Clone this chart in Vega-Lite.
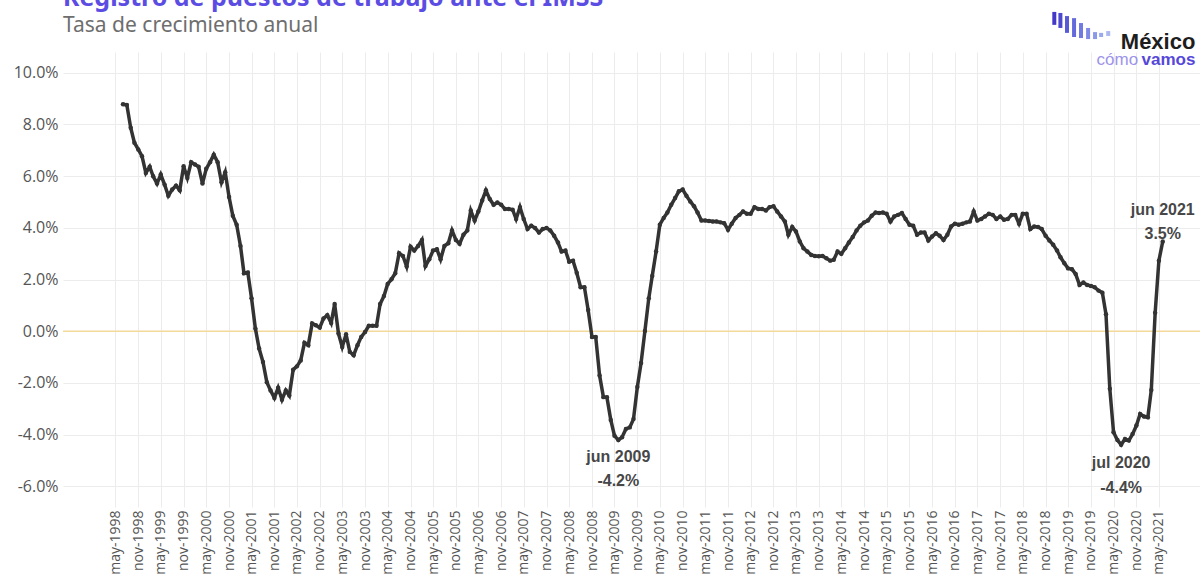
{
  "$schema": "https://vega.github.io/schema/vega-lite/v6.json",
  "width": 1137,
  "height": 455,
  "autosize": {"type": "none"},
  "padding": {"left": 63, "top": 52, "right": 0, "bottom": 70},
  "background": "white",
  "title": {
    "text": "Registro de puestos de trabajo ante el IMSS",
    "subtitle": "Tasa de crecimiento anual",
    "anchor": "start",
    "frame": "group",
    "offset": -26,
    "font": "Noto Sans",
    "fontSize": 25,
    "fontWeight": "bold",
    "color": "#5b4de3",
    "subtitleFont": "Noto Sans",
    "subtitleFontSize": 21,
    "subtitleColor": "#6e6e6e",
    "subtitlePadding": 4
  },
  "config": {
    "view": {"stroke": null},
    "axis": {"grid": true, "gridColor": "#ececec", "gridWidth": 1, "ticks": false, "domain": false, "title": null, "labelFont": "Open Sans", "labelColor": "#555555"}
  },
  "datasets": {
    "serie": [
      {"fecha": "1998-07-01", "valor": 8.78}, {"fecha": "1998-08-01", "valor": 8.75}, {"fecha": "1998-09-01", "valor": 7.87}, {"fecha": "1998-10-01", "valor": 7.29},
      {"fecha": "1998-11-01", "valor": 7.03}, {"fecha": "1998-12-01", "valor": 6.77}, {"fecha": "1999-01-01", "valor": 6.12}, {"fecha": "1999-02-01", "valor": 6.36},
      {"fecha": "1999-03-01", "valor": 5.99}, {"fecha": "1999-04-01", "valor": 5.71}, {"fecha": "1999-05-01", "valor": 6.06}, {"fecha": "1999-06-01", "valor": 5.67},
      {"fecha": "1999-07-01", "valor": 5.24}, {"fecha": "1999-08-01", "valor": 5.48}, {"fecha": "1999-09-01", "valor": 5.63}, {"fecha": "1999-10-01", "valor": 5.45},
      {"fecha": "1999-11-01", "valor": 6.38}, {"fecha": "1999-12-01", "valor": 5.93}, {"fecha": "2000-01-01", "valor": 6.54}, {"fecha": "2000-02-01", "valor": 6.45},
      {"fecha": "2000-03-01", "valor": 6.36}, {"fecha": "2000-04-01", "valor": 5.71}, {"fecha": "2000-05-01", "valor": 6.28}, {"fecha": "2000-06-01", "valor": 6.54},
      {"fecha": "2000-07-01", "valor": 6.83}, {"fecha": "2000-08-01", "valor": 6.54}, {"fecha": "2000-09-01", "valor": 5.76}, {"fecha": "2000-10-01", "valor": 6.15},
      {"fecha": "2000-11-01", "valor": 5.19}, {"fecha": "2000-12-01", "valor": 4.47}, {"fecha": "2001-01-01", "valor": 4.12}, {"fecha": "2001-02-01", "valor": 3.30},
      {"fecha": "2001-03-01", "valor": 2.24}, {"fecha": "2001-04-01", "valor": 2.27}, {"fecha": "2001-05-01", "valor": 1.27}, {"fecha": "2001-06-01", "valor": 0.10},
      {"fecha": "2001-07-01", "valor": -0.67}, {"fecha": "2001-08-01", "valor": -1.19}, {"fecha": "2001-09-01", "valor": -1.97}, {"fecha": "2001-10-01", "valor": -2.29},
      {"fecha": "2001-11-01", "valor": -2.58}, {"fecha": "2001-12-01", "valor": -2.19}, {"fecha": "2002-01-01", "valor": -2.65}, {"fecha": "2002-02-01", "valor": -2.29},
      {"fecha": "2002-03-01", "valor": -2.49}, {"fecha": "2002-04-01", "valor": -1.49}, {"fecha": "2002-05-01", "valor": -1.36}, {"fecha": "2002-06-01", "valor": -1.13},
      {"fecha": "2002-07-01", "valor": -0.45}, {"fecha": "2002-08-01", "valor": -0.54}, {"fecha": "2002-09-01", "valor": 0.30}, {"fecha": "2002-10-01", "valor": 0.23},
      {"fecha": "2002-11-01", "valor": 0.14}, {"fecha": "2002-12-01", "valor": 0.49}, {"fecha": "2003-01-01", "valor": 0.62}, {"fecha": "2003-02-01", "valor": 0.32},
      {"fecha": "2003-03-01", "valor": 1.05}, {"fecha": "2003-04-01", "valor": -0.09}, {"fecha": "2003-05-01", "valor": -0.61}, {"fecha": "2003-06-01", "valor": -0.12},
      {"fecha": "2003-07-01", "valor": -0.80}, {"fecha": "2003-08-01", "valor": -0.93}, {"fecha": "2003-09-01", "valor": -0.54}, {"fecha": "2003-10-01", "valor": -0.22},
      {"fecha": "2003-11-01", "valor": -0.03}, {"fecha": "2003-12-01", "valor": 0.21}, {"fecha": "2004-01-01", "valor": 0.21}, {"fecha": "2004-02-01", "valor": 0.21},
      {"fecha": "2004-03-01", "valor": 1.05}, {"fecha": "2004-04-01", "valor": 1.36}, {"fecha": "2004-05-01", "valor": 1.83}, {"fecha": "2004-06-01", "valor": 2.01},
      {"fecha": "2004-07-01", "valor": 2.24}, {"fecha": "2004-08-01", "valor": 3.02}, {"fecha": "2004-09-01", "valor": 2.91}, {"fecha": "2004-10-01", "valor": 2.50},
      {"fecha": "2004-11-01", "valor": 3.27}, {"fecha": "2004-12-01", "valor": 3.12}, {"fecha": "2005-01-01", "valor": 3.30}, {"fecha": "2005-02-01", "valor": 3.53},
      {"fecha": "2005-03-01", "valor": 2.52}, {"fecha": "2005-04-01", "valor": 2.78}, {"fecha": "2005-05-01", "valor": 3.12}, {"fecha": "2005-06-01", "valor": 3.17},
      {"fecha": "2005-07-01", "valor": 2.78}, {"fecha": "2005-08-01", "valor": 3.30}, {"fecha": "2005-09-01", "valor": 3.40}, {"fecha": "2005-10-01", "valor": 3.90},
      {"fecha": "2005-11-01", "valor": 3.53}, {"fecha": "2005-12-01", "valor": 3.38}, {"fecha": "2006-01-01", "valor": 3.73}, {"fecha": "2006-02-01", "valor": 3.90},
      {"fecha": "2006-03-01", "valor": 4.67}, {"fecha": "2006-04-01", "valor": 4.28}, {"fecha": "2006-05-01", "valor": 4.63}, {"fecha": "2006-06-01", "valor": 5.06},
      {"fecha": "2006-07-01", "valor": 5.45}, {"fecha": "2006-08-01", "valor": 5.11}, {"fecha": "2006-09-01", "valor": 4.89}, {"fecha": "2006-10-01", "valor": 4.98},
      {"fecha": "2006-11-01", "valor": 4.89}, {"fecha": "2006-12-01", "valor": 4.73}, {"fecha": "2007-01-01", "valor": 4.73}, {"fecha": "2007-02-01", "valor": 4.70},
      {"fecha": "2007-03-01", "valor": 4.34}, {"fecha": "2007-04-01", "valor": 4.80}, {"fecha": "2007-05-01", "valor": 4.34}, {"fecha": "2007-06-01", "valor": 3.95},
      {"fecha": "2007-07-01", "valor": 4.08}, {"fecha": "2007-08-01", "valor": 3.99}, {"fecha": "2007-09-01", "valor": 3.82}, {"fecha": "2007-10-01", "valor": 3.95},
      {"fecha": "2007-11-01", "valor": 3.99}, {"fecha": "2007-12-01", "valor": 3.90}, {"fecha": "2008-01-01", "valor": 3.69}, {"fecha": "2008-02-01", "valor": 3.43},
      {"fecha": "2008-03-01", "valor": 3.08}, {"fecha": "2008-04-01", "valor": 3.12}, {"fecha": "2008-05-01", "valor": 2.69}, {"fecha": "2008-06-01", "valor": 2.73},
      {"fecha": "2008-07-01", "valor": 2.26}, {"fecha": "2008-08-01", "valor": 1.70}, {"fecha": "2008-09-01", "valor": 1.70}, {"fecha": "2008-10-01", "valor": 0.82},
      {"fecha": "2008-11-01", "valor": -0.22}, {"fecha": "2008-12-01", "valor": -0.22}, {"fecha": "2009-01-01", "valor": -1.71}, {"fecha": "2009-02-01", "valor": -2.55},
      {"fecha": "2009-03-01", "valor": -2.55}, {"fecha": "2009-04-01", "valor": -3.43}, {"fecha": "2009-05-01", "valor": -4.04}, {"fecha": "2009-06-01", "valor": -4.21},
      {"fecha": "2009-07-01", "valor": -4.10}, {"fecha": "2009-08-01", "valor": -3.78}, {"fecha": "2009-09-01", "valor": -3.72}, {"fecha": "2009-10-01", "valor": -3.40},
      {"fecha": "2009-11-01", "valor": -2.16}, {"fecha": "2009-12-01", "valor": -1.23}, {"fecha": "2010-01-01", "valor": 0.01}, {"fecha": "2010-02-01", "valor": 1.27},
      {"fecha": "2010-03-01", "valor": 2.14}, {"fecha": "2010-04-01", "valor": 3.08}, {"fecha": "2010-05-01", "valor": 4.12}, {"fecha": "2010-06-01", "valor": 4.38},
      {"fecha": "2010-07-01", "valor": 4.59}, {"fecha": "2010-08-01", "valor": 4.89}, {"fecha": "2010-09-01", "valor": 5.15}, {"fecha": "2010-10-01", "valor": 5.41},
      {"fecha": "2010-11-01", "valor": 5.48}, {"fecha": "2010-12-01", "valor": 5.24}, {"fecha": "2011-01-01", "valor": 5.02}, {"fecha": "2011-02-01", "valor": 4.83},
      {"fecha": "2011-03-01", "valor": 4.59}, {"fecha": "2011-04-01", "valor": 4.28}, {"fecha": "2011-05-01", "valor": 4.28}, {"fecha": "2011-06-01", "valor": 4.26},
      {"fecha": "2011-07-01", "valor": 4.24}, {"fecha": "2011-08-01", "valor": 4.24}, {"fecha": "2011-09-01", "valor": 4.21}, {"fecha": "2011-10-01", "valor": 4.18},
      {"fecha": "2011-11-01", "valor": 3.92}, {"fecha": "2011-12-01", "valor": 4.16}, {"fecha": "2012-01-01", "valor": 4.38}, {"fecha": "2012-02-01", "valor": 4.50},
      {"fecha": "2012-03-01", "valor": 4.63}, {"fecha": "2012-04-01", "valor": 4.54}, {"fecha": "2012-05-01", "valor": 4.54}, {"fecha": "2012-06-01", "valor": 4.80},
      {"fecha": "2012-07-01", "valor": 4.73}, {"fecha": "2012-08-01", "valor": 4.73}, {"fecha": "2012-09-01", "valor": 4.67}, {"fecha": "2012-10-01", "valor": 4.80},
      {"fecha": "2012-11-01", "valor": 4.83}, {"fecha": "2012-12-01", "valor": 4.63}, {"fecha": "2013-01-01", "valor": 4.44}, {"fecha": "2013-02-01", "valor": 4.24},
      {"fecha": "2013-03-01", "valor": 3.73}, {"fecha": "2013-04-01", "valor": 4.03}, {"fecha": "2013-05-01", "valor": 3.86}, {"fecha": "2013-06-01", "valor": 3.47},
      {"fecha": "2013-07-01", "valor": 3.21}, {"fecha": "2013-08-01", "valor": 3.08}, {"fecha": "2013-09-01", "valor": 2.95}, {"fecha": "2013-10-01", "valor": 2.91},
      {"fecha": "2013-11-01", "valor": 2.90}, {"fecha": "2013-12-01", "valor": 2.91}, {"fecha": "2014-01-01", "valor": 2.82}, {"fecha": "2014-02-01", "valor": 2.73},
      {"fecha": "2014-03-01", "valor": 2.76}, {"fecha": "2014-04-01", "valor": 3.08}, {"fecha": "2014-05-01", "valor": 2.99}, {"fecha": "2014-06-01", "valor": 3.21},
      {"fecha": "2014-07-01", "valor": 3.43}, {"fecha": "2014-08-01", "valor": 3.64}, {"fecha": "2014-09-01", "valor": 3.90}, {"fecha": "2014-10-01", "valor": 4.08},
      {"fecha": "2014-11-01", "valor": 4.21}, {"fecha": "2014-12-01", "valor": 4.28}, {"fecha": "2015-01-01", "valor": 4.47}, {"fecha": "2015-02-01", "valor": 4.59},
      {"fecha": "2015-03-01", "valor": 4.57}, {"fecha": "2015-04-01", "valor": 4.59}, {"fecha": "2015-05-01", "valor": 4.54}, {"fecha": "2015-06-01", "valor": 4.24},
      {"fecha": "2015-07-01", "valor": 4.44}, {"fecha": "2015-08-01", "valor": 4.50}, {"fecha": "2015-09-01", "valor": 4.57}, {"fecha": "2015-10-01", "valor": 4.34},
      {"fecha": "2015-11-01", "valor": 4.12}, {"fecha": "2015-12-01", "valor": 4.08}, {"fecha": "2016-01-01", "valor": 3.73}, {"fecha": "2016-02-01", "valor": 3.82},
      {"fecha": "2016-03-01", "valor": 3.82}, {"fecha": "2016-04-01", "valor": 3.51}, {"fecha": "2016-05-01", "valor": 3.66}, {"fecha": "2016-06-01", "valor": 3.79},
      {"fecha": "2016-07-01", "valor": 3.69}, {"fecha": "2016-08-01", "valor": 3.53}, {"fecha": "2016-09-01", "valor": 3.73}, {"fecha": "2016-10-01", "valor": 4.05},
      {"fecha": "2016-11-01", "valor": 4.16}, {"fecha": "2016-12-01", "valor": 4.12}, {"fecha": "2017-01-01", "valor": 4.16}, {"fecha": "2017-02-01", "valor": 4.21},
      {"fecha": "2017-03-01", "valor": 4.24}, {"fecha": "2017-04-01", "valor": 4.63}, {"fecha": "2017-05-01", "valor": 4.28}, {"fecha": "2017-06-01", "valor": 4.34},
      {"fecha": "2017-07-01", "valor": 4.44}, {"fecha": "2017-08-01", "valor": 4.54}, {"fecha": "2017-09-01", "valor": 4.50}, {"fecha": "2017-10-01", "valor": 4.34},
      {"fecha": "2017-11-01", "valor": 4.44}, {"fecha": "2017-12-01", "valor": 4.31}, {"fecha": "2018-01-01", "valor": 4.34}, {"fecha": "2018-02-01", "valor": 4.50},
      {"fecha": "2018-03-01", "valor": 4.50}, {"fecha": "2018-04-01", "valor": 4.16}, {"fecha": "2018-05-01", "valor": 4.54}, {"fecha": "2018-06-01", "valor": 4.54},
      {"fecha": "2018-07-01", "valor": 3.95}, {"fecha": "2018-08-01", "valor": 4.05}, {"fecha": "2018-09-01", "valor": 4.03}, {"fecha": "2018-10-01", "valor": 3.95},
      {"fecha": "2018-11-01", "valor": 3.69}, {"fecha": "2018-12-01", "valor": 3.51}, {"fecha": "2019-01-01", "valor": 3.34}, {"fecha": "2019-02-01", "valor": 3.12},
      {"fecha": "2019-03-01", "valor": 2.86}, {"fecha": "2019-04-01", "valor": 2.63}, {"fecha": "2019-05-01", "valor": 2.43}, {"fecha": "2019-06-01", "valor": 2.40},
      {"fecha": "2019-07-01", "valor": 2.21}, {"fecha": "2019-08-01", "valor": 1.79}, {"fecha": "2019-09-01", "valor": 1.88}, {"fecha": "2019-10-01", "valor": 1.79},
      {"fecha": "2019-11-01", "valor": 1.75}, {"fecha": "2019-12-01", "valor": 1.70}, {"fecha": "2020-01-01", "valor": 1.57}, {"fecha": "2020-02-01", "valor": 1.49},
      {"fecha": "2020-03-01", "valor": 0.66}, {"fecha": "2020-04-01", "valor": -2.23}, {"fecha": "2020-05-01", "valor": -3.91}, {"fecha": "2020-06-01", "valor": -4.21},
      {"fecha": "2020-07-01", "valor": -4.39}, {"fecha": "2020-08-01", "valor": -4.17}, {"fecha": "2020-09-01", "valor": -4.23}, {"fecha": "2020-10-01", "valor": -3.98},
      {"fecha": "2020-11-01", "valor": -3.65}, {"fecha": "2020-12-01", "valor": -3.20}, {"fecha": "2021-01-01", "valor": -3.30}, {"fecha": "2021-02-01", "valor": -3.33},
      {"fecha": "2021-03-01", "valor": -2.27}, {"fecha": "2021-04-01", "valor": 0.71}, {"fecha": "2021-05-01", "valor": 2.73}, {"fecha": "2021-06-01", "valor": 3.47}
    ],
    "notas": [
      {"fecha": "2009-06-01", "valor": -4.88, "texto": "jun 2009"},
      {"fecha": "2009-06-01", "valor": -5.81, "texto": "-4.2%"},
      {"fecha": "2020-07-01", "valor": -5.08, "texto": "jul 2020"},
      {"fecha": "2020-07-01", "valor": -6.05, "texto": "-4.4%"},
      {"fecha": "2021-06-01", "valor": 4.69, "texto": "jun 2021"},
      {"fecha": "2021-06-01", "valor": 3.76, "texto": "3.5%"}
    ],
    "barras": [
      {"fecha": "2019-01-10", "valor": 12.35, "valor2": 11.85, "i": 1},
      {"fecha": "2019-02-28", "valor": 12.31, "valor2": 11.73, "i": 2},
      {"fecha": "2019-04-22", "valor": 12.19, "valor2": 11.54, "i": 3},
      {"fecha": "2019-06-18", "valor": 12.11, "valor2": 11.38, "i": 4},
      {"fecha": "2019-08-13", "valor": 11.92, "valor2": 11.34, "i": 5},
      {"fecha": "2019-10-09", "valor": 11.73, "valor2": 11.30, "i": 6},
      {"fecha": "2019-12-04", "valor": 11.57, "valor2": 11.30, "i": 7},
      {"fecha": "2020-01-22", "valor": 11.54, "valor2": 11.38, "i": 8},
      {"fecha": "2020-03-19", "valor": 11.61, "valor2": 11.42, "i": 9}
    ]
  },
  "layer": [
    {
      "data": {"values": [{"valor": 0}]},
      "mark": {"type": "rule", "color": "#f3d99b", "strokeWidth": 1.5},
      "encoding": {
        "y": {"field": "valor", "type": "quantitative", "scale": {"domain": [-6.8, 10.8], "nice": false, "zero": false}}
      }
    },
    {
      "data": {"name": "serie"},
      "mark": {"type": "line", "color": "#333333", "strokeWidth": 3.5, "point": {"filled": true, "size": 20, "color": "#333333"}},
      "encoding": {
        "x": {
          "field": "fecha", "type": "temporal",
          "scale": {"type": "utc", "domain": [{"year": 1997, "month": 3, "date": 5, "utc": true}, {"year": 2022, "month": 3, "date": 28, "utc": true}]},
          "axis": {
            "values": [
              {"year": 1998, "month": 5, "date": 1, "utc": true}, {"year": 1998, "month": 11, "date": 1, "utc": true},
              {"year": 1999, "month": 5, "date": 1, "utc": true}, {"year": 1999, "month": 11, "date": 1, "utc": true},
              {"year": 2000, "month": 5, "date": 1, "utc": true}, {"year": 2000, "month": 11, "date": 1, "utc": true},
              {"year": 2001, "month": 5, "date": 1, "utc": true}, {"year": 2001, "month": 11, "date": 1, "utc": true},
              {"year": 2002, "month": 5, "date": 1, "utc": true}, {"year": 2002, "month": 11, "date": 1, "utc": true},
              {"year": 2003, "month": 5, "date": 1, "utc": true}, {"year": 2003, "month": 11, "date": 1, "utc": true},
              {"year": 2004, "month": 5, "date": 1, "utc": true}, {"year": 2004, "month": 11, "date": 1, "utc": true},
              {"year": 2005, "month": 5, "date": 1, "utc": true}, {"year": 2005, "month": 11, "date": 1, "utc": true},
              {"year": 2006, "month": 5, "date": 1, "utc": true}, {"year": 2006, "month": 11, "date": 1, "utc": true},
              {"year": 2007, "month": 5, "date": 1, "utc": true}, {"year": 2007, "month": 11, "date": 1, "utc": true},
              {"year": 2008, "month": 5, "date": 1, "utc": true}, {"year": 2008, "month": 11, "date": 1, "utc": true},
              {"year": 2009, "month": 5, "date": 1, "utc": true}, {"year": 2009, "month": 11, "date": 1, "utc": true},
              {"year": 2010, "month": 5, "date": 1, "utc": true}, {"year": 2010, "month": 11, "date": 1, "utc": true},
              {"year": 2011, "month": 5, "date": 1, "utc": true}, {"year": 2011, "month": 11, "date": 1, "utc": true},
              {"year": 2012, "month": 5, "date": 1, "utc": true}, {"year": 2012, "month": 11, "date": 1, "utc": true},
              {"year": 2013, "month": 5, "date": 1, "utc": true}, {"year": 2013, "month": 11, "date": 1, "utc": true},
              {"year": 2014, "month": 5, "date": 1, "utc": true}, {"year": 2014, "month": 11, "date": 1, "utc": true},
              {"year": 2015, "month": 5, "date": 1, "utc": true}, {"year": 2015, "month": 11, "date": 1, "utc": true},
              {"year": 2016, "month": 5, "date": 1, "utc": true}, {"year": 2016, "month": 11, "date": 1, "utc": true},
              {"year": 2017, "month": 5, "date": 1, "utc": true}, {"year": 2017, "month": 11, "date": 1, "utc": true},
              {"year": 2018, "month": 5, "date": 1, "utc": true}, {"year": 2018, "month": 11, "date": 1, "utc": true},
              {"year": 2019, "month": 5, "date": 1, "utc": true}, {"year": 2019, "month": 11, "date": 1, "utc": true},
              {"year": 2020, "month": 5, "date": 1, "utc": true}, {"year": 2020, "month": 11, "date": 1, "utc": true},
              {"year": 2021, "month": 5, "date": 1, "utc": true}
            ],
            "tickCount": 100,
            "labelExpr": "(utcmonth(datum.value) == 4 ? 'may' : 'nov') + '-' + utcyear(datum.value)",
            "labelAngle": -90,
            "labelFontSize": 14,
            "labelPadding": 3,
            "labelFlush": false,
            "labelOverlap": false,
            "labelBound": false
          }
        },
        "y": {
          "field": "valor", "type": "quantitative",
          "scale": {"domain": [-6.8, 10.8], "nice": false, "zero": false},
          "axis": {
            "values": [-6, -4, -2, 0, 2, 4, 6, 8, 10],
            "tickCount": 20,
            "labelExpr": "(datum.value < 0 ? '-' : '') + format(abs(datum.value), '.1f') + '%'",
            "labelFontSize": 16,
            "labelPadding": 5
          }
        }
      }
    },
    {
      "data": {"name": "notas"},
      "mark": {"type": "text", "font": "Liberation Sans", "fontSize": 16, "fontWeight": "bold", "color": "#474747", "align": "center", "baseline": "middle"},
      "encoding": {
        "x": {"field": "fecha", "type": "temporal", "scale": {"type": "utc", "domain": [{"year": 1997, "month": 3, "date": 5, "utc": true}, {"year": 2022, "month": 3, "date": 28, "utc": true}]}},
        "y": {"field": "valor", "type": "quantitative", "scale": {"domain": [-6.8, 10.8], "nice": false, "zero": false}},
        "text": {"field": "texto"}
      }
    },
    {
      "data": {"name": "barras"},
      "mark": {"type": "rule", "strokeWidth": 4},
      "encoding": {
        "x": {"field": "fecha", "type": "temporal", "scale": {"type": "utc", "domain": [{"year": 1997, "month": 3, "date": 5, "utc": true}, {"year": 2022, "month": 3, "date": 28, "utc": true}]}},
        "y": {"field": "valor", "type": "quantitative", "scale": {"domain": [-6.8, 10.8], "nice": false, "zero": false}},
        "y2": {"field": "valor2"},
        "color": {"field": "i", "type": "quantitative", "scale": {"range": ["#4338c8", "#aab8f0"]}, "legend": null}
      }
    },
    {
      "data": {"values": [{"fecha": "2022-02-19", "valor": 11.19, "texto": "México"}]},
      "mark": {"type": "text", "font": "Liberation Sans", "fontSize": 22, "fontWeight": "bold", "color": "#1e1e1e", "align": "right", "baseline": "middle"},
      "encoding": {
        "x": {"field": "fecha", "type": "temporal", "scale": {"type": "utc", "domain": [{"year": 1997, "month": 3, "date": 5, "utc": true}, {"year": 2022, "month": 3, "date": 28, "utc": true}]}},
        "y": {"field": "valor", "type": "quantitative", "scale": {"domain": [-6.8, 10.8], "nice": false, "zero": false}},
        "text": {"field": "texto"}
      }
    },
    {
      "data": {"values": [{"fecha": "2020-11-15", "valor": 10.49, "texto": "cómo"}]},
      "mark": {"type": "text", "font": "Liberation Sans", "fontSize": 17, "color": "#9d93ea", "align": "right", "baseline": "middle"},
      "encoding": {
        "x": {"field": "fecha", "type": "temporal", "scale": {"type": "utc", "domain": [{"year": 1997, "month": 3, "date": 5, "utc": true}, {"year": 2022, "month": 3, "date": 28, "utc": true}]}},
        "y": {"field": "valor", "type": "quantitative", "scale": {"domain": [-6.8, 10.8], "nice": false, "zero": false}},
        "text": {"field": "texto"}
      }
    },
    {
      "data": {"values": [{"fecha": "2022-02-19", "valor": 10.49, "texto": "vamos"}]},
      "mark": {"type": "text", "font": "Liberation Sans", "fontSize": 17, "fontWeight": "bold", "color": "#5548d9", "align": "right", "baseline": "middle"},
      "encoding": {
        "x": {"field": "fecha", "type": "temporal", "scale": {"type": "utc", "domain": [{"year": 1997, "month": 3, "date": 5, "utc": true}, {"year": 2022, "month": 3, "date": 28, "utc": true}]}},
        "y": {"field": "valor", "type": "quantitative", "scale": {"domain": [-6.8, 10.8], "nice": false, "zero": false}},
        "text": {"field": "texto"}
      }
    }
  ]
}
